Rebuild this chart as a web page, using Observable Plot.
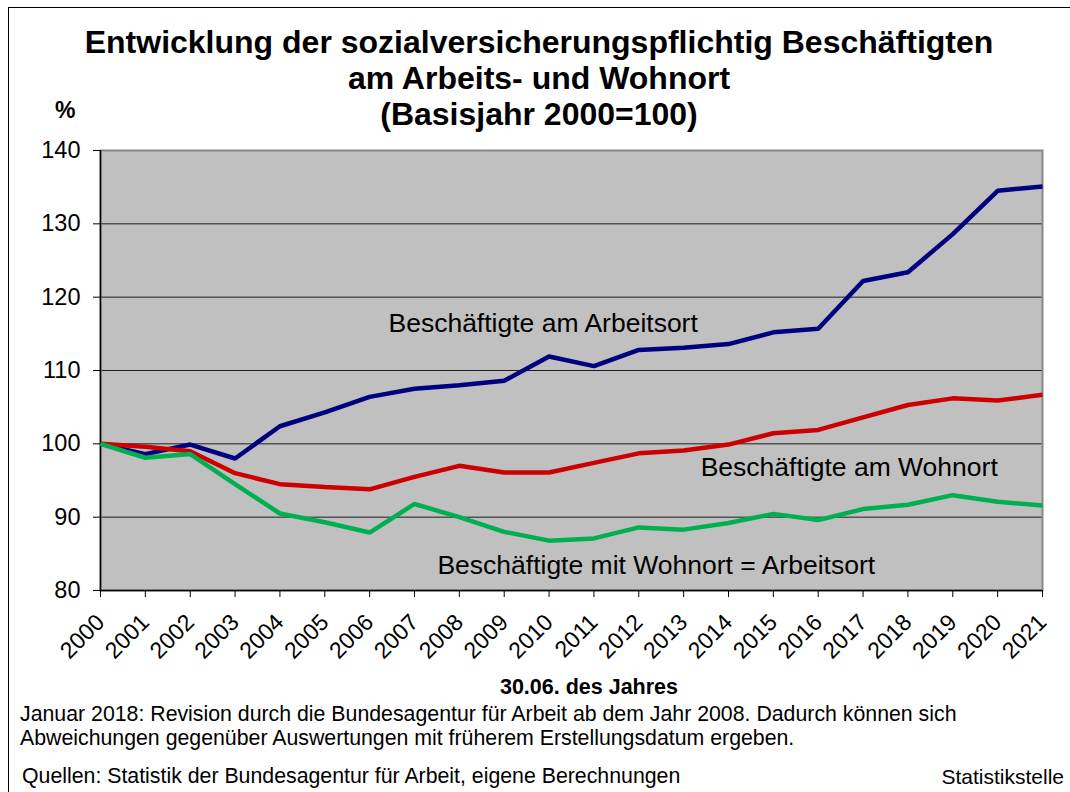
<!DOCTYPE html>
<html><head><meta charset="utf-8">
<script src="https://cdn.jsdelivr.net/npm/d3@7"></script>
<script src="https://cdn.jsdelivr.net/npm/@observablehq/plot@0.6"></script>
<style>
body{margin:0;background:#fff;font-family:Arial,"Liberation Sans",sans-serif;}
#wrap{position:relative;width:1070px;height:792px;overflow:hidden;background:#fff;}
#border{position:absolute;left:8px;top:7px;width:1200px;height:900px;border-left:1.5px solid #000;border-top:1.5px solid #000;}
.t{position:absolute;white-space:nowrap;color:#000;}
#title{left:0;width:1078px;top:24px;text-align:center;font-weight:bold;font-size:32px;line-height:36px;}
#pct{left:55px;top:98px;font-weight:bold;font-size:23px;line-height:24px;}
#chart{position:absolute;left:0;top:130px;}
#xlab{left:439px;width:300px;text-align:center;top:675px;font-weight:bold;font-size:21.5px;line-height:24px;}
#note{left:20px;top:702px;font-size:21.3px;line-height:24px;}
#src{left:22px;top:764px;font-size:21.3px;line-height:24px;}
#stat{right:6px;top:765px;font-size:21px;line-height:24px;}
</style></head>
<body>
<div id="wrap">
  <div id="border"></div>
  <div class="t" id="title">Entwicklung der sozialversicherungspflichtig Beschäftigten<br>am Arbeits- und Wohnort<br>(Basisjahr 2000=100)</div>
  <div class="t" id="pct">%</div>
  <div id="chart"></div>
  <div class="t" id="xlab">30.06. des Jahres</div>
  <div class="t" id="note">Januar 2018: Revision durch die Bundesagentur für Arbeit ab dem Jahr 2008. Dadurch können sich<br>Abweichungen gegenüber Auswertungen mit früherem Erstellungsdatum ergeben.</div>
  <div class="t" id="src">Quellen: Statistik der Bundesagentur für Arbeit, eigene Berechnungen</div>
  <div class="t" id="stat">Statistikstelle</div>
</div>
<script>
const years = [2000,2001,2002,2003,2004,2005,2006,2007,2008,2009,2010,2011,2012,2013,2014,2015,2016,2017,2018,2019,2020,2021];
const arbeitsort = [100,98.6,99.9,98.0,102.4,104.3,106.4,107.5,108.0,108.6,111.9,110.6,112.8,113.1,113.6,115.2,115.7,122.2,123.4,128.6,134.5,135.1];
const wohnort = [100,99.6,99.0,96.0,94.5,94.1,93.8,95.5,97.0,96.1,96.1,97.4,98.7,99.1,99.9,101.45,101.9,103.6,105.3,106.2,105.9,106.7];
const wohnGleichArbeit = [100,98.1,98.6,94.5,90.5,89.3,87.9,91.8,90.0,88.0,86.8,87.1,88.6,88.3,89.2,90.45,89.6,91.1,91.7,93.0,92.1,91.6];
const seriesNames = ["Beschäftigte am Arbeitsort","Beschäftigte am Wohnort","Beschäftigte mit Wohnort = Arbeitsort"];
const seriesColors = ["#000080","#cc0000","#00b050"];
const yTicks = [80,90,100,110,120,130,140];
const gridTicks = [90,100,110,120,130];
const labelYears = [2006.42,2013.38,2007.51];
const labelValues = [116.4,96.8,83.4];

const seriesValues = [arbeitsort, wohnort, wohnGleichArbeit];
const rows = seriesNames.flatMap((s,i)=>years.map((y,j)=>({year:y,value:seriesValues[i][j],series:s})));
const labels = seriesNames.map((s,i)=>({year:labelYears[i],value:labelValues[i],text:s}));

const chart = Plot.plot({
  width:1070, height:570, marginLeft:100, marginRight:28, marginTop:20, marginBottom:110,
  style:{fontFamily:'Arial, "Liberation Sans", sans-serif', fontSize:"23.5px", background:"transparent", color:"#000"},
  x:{domain:[2000,2021]},
  y:{domain:[80,140]},
  color:{domain:seriesNames, range:seriesColors},
  marks:[
    Plot.frame({fill:"#c0c0c0"}),
    Plot.gridY(gridTicks, {stroke:"#000", strokeOpacity:0.85, strokeWidth:1}),
    Plot.frame({stroke:"#888", strokeWidth:2}),
    Plot.ruleX([2000], {stroke:"#000", strokeWidth:1.5}),
    Plot.ruleY([80], {stroke:"#000", strokeWidth:1.5}),
    Plot.axisY({ticks:yTicks, tickSize:7, tickPadding:13, fontSize:23.5, label:null, stroke:"#000"}),
    Plot.axisX({ticks:years, tickSize:7, tickPadding:21, tickRotate:-45, fontSize:23, label:null, tickFormat:"d"}),
    Plot.line(rows, {x:"year", y:"value", z:"series", stroke:"series", strokeWidth:4.5, strokeLinejoin:"miter", strokeLinecap:"butt"}),
    Plot.text(labels, {x:"year", y:"value", text:"text", textAnchor:"start", fontSize:26.5, fill:"#000"})
  ]
});
document.getElementById("chart").appendChild(chart);
</script>
</body></html>
